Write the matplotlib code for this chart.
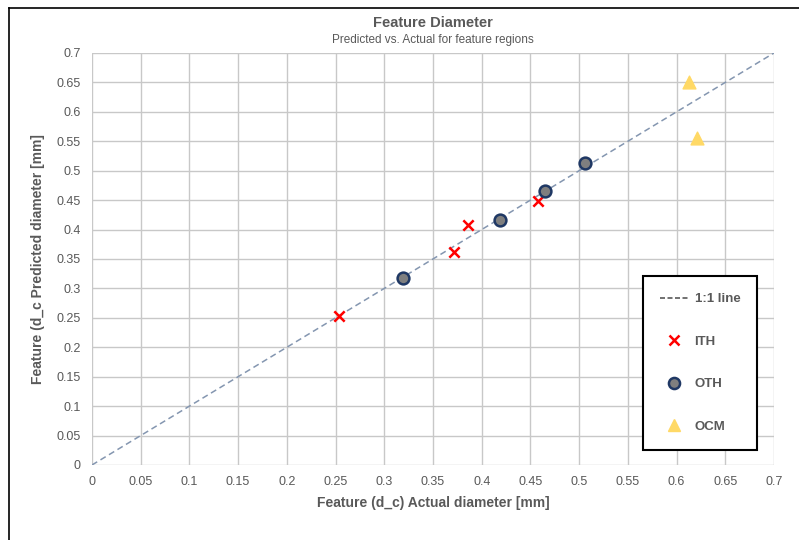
import matplotlib.pyplot as plt
from matplotlib.lines import Line2D

plt.rcParams['font.family'] = ['Liberation Sans', 'DejaVu Sans']

# valores
ith_x = [0.2535, 0.3716, 0.386, 0.458]
ith_y = [0.2537, 0.362, 0.407, 0.449]
oth_x = [0.319, 0.4188, 0.465, 0.506]
oth_y = [0.318, 0.416, 0.466, 0.5126]
ocm_x = [0.6127, 0.621]
ocm_y = [0.651, 0.555]
line_x = [0, 0.7]
ticks = [i * 0.05 for i in range(15)]
tick_labels = ['0', '0.05', '0.1', '0.15', '0.2', '0.25', '0.3', '0.35', '0.4',
               '0.45', '0.5', '0.55', '0.6', '0.65', '0.7']

cinza = '#595959'

fig = plt.figure(figsize=(7.99, 5.4), dpi=100)
ax = fig.add_axes([0.1151, 0.1389, 0.8536, 0.763])

ax.plot(line_x, line_x, linestyle=(0, (4, 2.5)), color='#8496b0', lw=1.1, zorder=2)
ax.scatter(ith_x, ith_y, marker='x', color='#ff0000', s=55, linewidths=1.8, zorder=3)
ax.scatter(oth_x, oth_y, marker='o', facecolor='#7f7f7f', edgecolor='#1f3864',
           s=72, linewidths=1.8, zorder=3)
ax.scatter(ocm_x, ocm_y, marker='^', color='#ffd966', s=85, zorder=3)

ax.set_xlim(0, 0.7)
ax.set_ylim(0, 0.7)
ax.set_xticks(ticks)
ax.set_yticks(ticks)
ax.set_xticklabels(tick_labels)
ax.set_yticklabels(tick_labels)
ax.tick_params(length=0, labelsize=9, labelcolor=cinza, pad=8)
ax.grid(True, color='#c8c8c8', lw=1)
ax.set_axisbelow(True)
for s in ax.spines.values():
    s.set_visible(False)

ax.set_xlabel('Feature (d_c) Actual diameter [mm]', fontsize=10, fontweight='bold',
              color=cinza, labelpad=6)
ax.set_ylabel('Feature (d_c Predicted diameter [mm]', fontsize=10, fontweight='bold',
              color=cinza, labelpad=8)

fig.text(0.542, 0.958, 'Feature Diameter', ha='center', va='center', fontsize=10.5,
         fontweight='bold', color=cinza)
fig.text(0.542, 0.926, 'Predicted vs. Actual for feature regions', ha='center',
         va='center', fontsize=8.5, color=cinza)

handles = [
    Line2D([], [], linestyle=(0, (3, 1.5)), color='#595959', lw=1.2),
    Line2D([], [], marker='x', color='#ff0000', linestyle='None', markersize=7, markeredgewidth=1.8),
    Line2D([], [], marker='o', markerfacecolor='#7f7f7f', markeredgecolor='#1f3864',
           linestyle='None', markersize=8, markeredgewidth=1.8),
    Line2D([], [], marker='^', color='#ffd966', linestyle='None', markersize=9),
]
leg = ax.legend(handles, ['1:1 line', 'ITH', 'OTH', 'OCM'], loc='lower left',
                bbox_to_anchor=(0.808, 0.036), fontsize=9.5, labelspacing=2.3,
                handlelength=2.1, handletextpad=0.5, borderpad=1.3,
                frameon=True, fancybox=False, framealpha=1, borderaxespad=0)
leg.get_frame().set_edgecolor('black')
leg.get_frame().set_linewidth(1.5)
for t in leg.get_texts():
    t.set_color(cinza)
    t.set_fontweight('bold')

# moldura da figura (só topo e esquerda aparecem)
fig.add_artist(Line2D([0.011, 1], [0.985, 0.985], color='black', lw=1.2))
fig.add_artist(Line2D([0.011, 0.011], [0, 0.985], color='black', lw=1.2))

plt.savefig('out.png', dpi=100)
